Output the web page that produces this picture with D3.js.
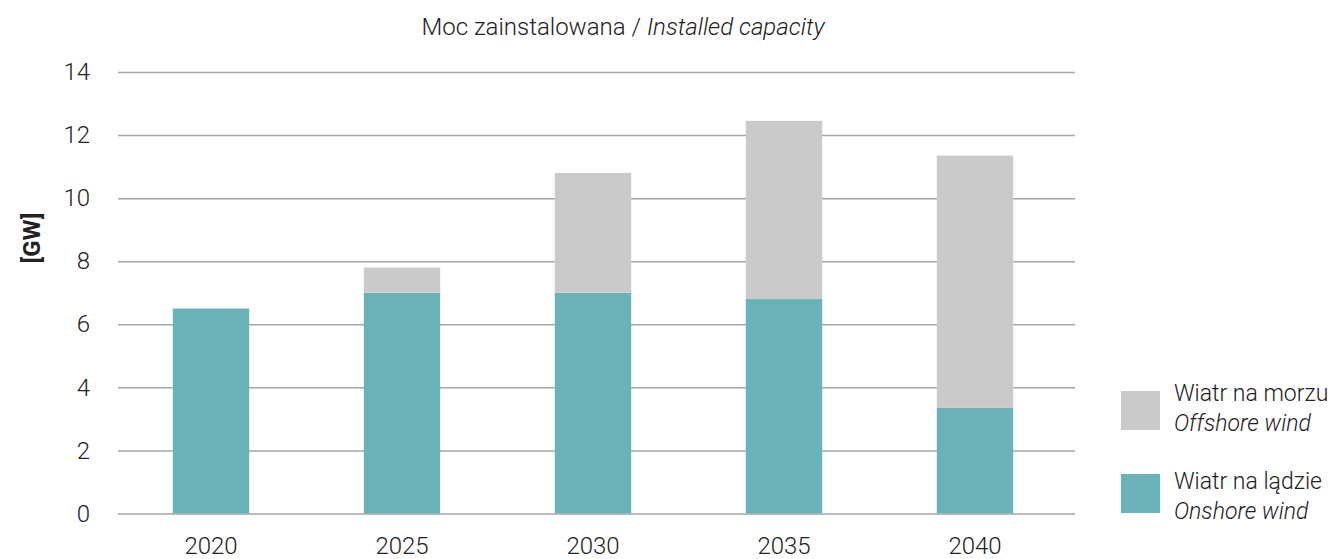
<!DOCTYPE html>
<html>
<head>
<meta charset="utf-8">
<script src="https://cdn.jsdelivr.net/npm/d3@7"></script>
<style>
    body { margin: 0; background: #fff; }
    svg { font-family: Roboto, "Noto Sans", sans-serif; }
    .tick text { font-family: Roboto, "Noto Sans", sans-serif; font-size: 24px; font-weight: 300; fill: #222; }
</style>
</head>
<body>
<div id="chart"></div>
<script>
// data
let years = ["2020", "2025", "2030", "2035", "2040"]
let onshore = [6.5, 7.0, 7.0, 6.8, 3.35]
let offshore = [0, 0.8, 3.8, 5.65, 8.0]
let yTicks = [0, 2, 4, 6, 8, 10, 12, 14]
let seriesNames = ["onshore", "offshore"]
let legendLabels = [
    { pl: "Wiatr na morzu", en: "Offshore wind", key: "offshore" },
    { pl: "Wiatr na lądzie", en: "Onshore wind", key: "onshore" }
]

let width = 1336,
    height = 559

let color = d3.scaleOrdinal()
    .domain(seriesNames)
    .range(["#69b3b8", "#cacaca"])

let gridLeft = 118,
    gridRight = 1075

let xScale = d3.scaleBand()
    .domain(years)
    .range([115.5, 1070.5])
    .paddingInner(0.6)
    .paddingOuter(0.3)

let yScale = d3.scaleLinear()
    .domain([0, 14])
    .range([513.5, 72])

let rows = years.map(function (y, i) {
    return { year: y, onshore: onshore[i], offshore: offshore[i] }
})
let series = d3.stack().keys(seriesNames)(rows)

let svg = d3.select("#chart")
    .append("svg")
    .attr("width", width)
    .attr("height", height)

// gridlines + y labels
let yAxis = d3.axisLeft(yScale)
    .tickValues(yTicks)
    .tickSize(-(gridRight - gridLeft))
    .tickPadding(28)

let gy = svg.append("g")
    .attr("transform", "translate(" + gridLeft + ",0)")
    .call(yAxis)
gy.select(".domain").remove()
gy.selectAll(".tick line")
    .attr("stroke", "#a6a6a6")
    .attr("stroke-width", 1.5)

// bars
svg.append("g")
    .selectAll("g")
    .data(series)
    .enter()
    .append("g")
    .attr("fill", function (d) { return color(d.key) })
    .selectAll("rect")
    .data(function (d) { return d })
    .enter()
    .append("rect")
    .attr("x", function (d) { return xScale(d.data.year) })
    .attr("y", function (d) { return yScale(d[1]) })
    .attr("width", xScale.bandwidth())
    .attr("height", function (d) { return yScale(d[0]) - yScale(d[1]) })

// x labels
let xAxis = d3.axisBottom(xScale)
    .tickSize(0)
    .tickPadding(23)
let gx = svg.append("g")
    .attr("transform", "translate(0," + yScale(0) + ")")
    .call(xAxis)
gx.select(".domain").remove()

// title
let title = svg.append("text")
    .attr("x", 623)
    .attr("y", 35)
    .attr("text-anchor", "middle")
    .style("font-size", "24px")
    .style("font-weight", 300)
    .attr("fill", "#222")
title.append("tspan").text("Moc zainstalowana / ")
title.append("tspan").style("font-style", "italic").text("Installed capacity")

// y-axis title
svg.append("text")
    .attr("transform", "translate(40," + 238 + ") rotate(-90)")
    .attr("text-anchor", "middle")
    .style("font-size", "24px")
    .style("font-weight", "bold")
    .attr("fill", "#222")
    .text("[GW]")

// legend
let legend = svg.append("g")
    .selectAll("g")
    .data(legendLabels)
    .enter()
    .append("g")

legend.append("rect")
    .attr("x", 1121)
    .attr("y", function (d, i) { return 391 + i * 83 })
    .attr("width", 39)
    .attr("height", 39)
    .attr("fill", function (d) { return color(d.key) })

legend.append("text")
    .attr("x", 1174)
    .attr("y", function (d, i) { return 401 + i * 88 })
    .style("font-size", "23px")
    .style("font-weight", 300)
    .attr("fill", "#222")
    .text(function (d) { return d.pl })

legend.append("text")
    .attr("x", 1174)
    .attr("y", function (d, i) { return 431 + i * 88 })
    .style("font-size", "23px")
    .style("font-weight", 300)
    .style("font-style", "italic")
    .attr("fill", "#222")
    .text(function (d) { return d.en })
</script>
</body>
</html>
